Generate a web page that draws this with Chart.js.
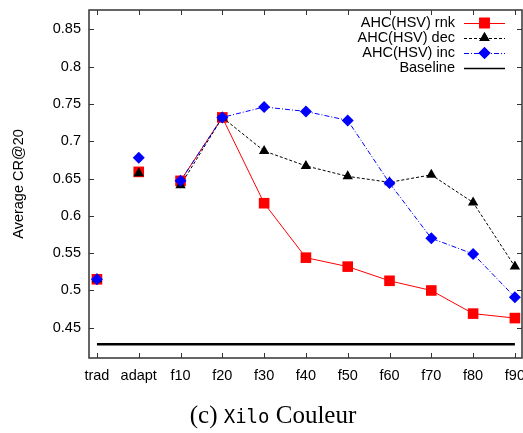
<!DOCTYPE html>
<html>
<head>
<meta charset="utf-8">
<script src="https://cdn.jsdelivr.net/npm/chart.js@4/dist/chart.umd.min.js"></script>
<style>
  body { margin: 0; background: #fff; }
  #wrap { width: 523px; height: 433px; }
</style>
</head>
<body>
<div id="wrap"><canvas id="myChart" width="523" height="433"></canvas></div>
<script>
// Categories along the x axis
const categories = ['trad', 'adapt', 'f10', 'f20', 'f30', 'f40', 'f50', 'f60', 'f70', 'f80', 'f90'];

// Average CR@20 per configuration
const rnkValues = [0.515, 0.659, 0.647, 0.732, 0.617, 0.544, 0.532, 0.513, 0.500, 0.469, 0.463];
const decValues = [0.515, 0.657, 0.641, 0.732, 0.687, 0.667, 0.653, 0.645, 0.655, 0.618, 0.532];
const incValues = [0.515, 0.678, 0.647, 0.732, 0.746, 0.740, 0.728, 0.644, 0.570, 0.549, 0.491];
const baselineValues = [0.428, 0.428, 0.428, 0.428, 0.428, 0.428, 0.428, 0.428, 0.428, 0.428, 0.428];

const yTicks = [0.45, 0.5, 0.55, 0.6, 0.65, 0.7, 0.75, 0.8, 0.85];

const FONT = "'Liberation Sans', Arial, sans-serif";
const AXIS_COLOR = '#333';

const toPoints = values => values.map((v, i) => ({ x: i, y: v }));

// trad and adapt are plotted as lone points, the curve starts at f10
const hideFirst = color => ({
    borderColor: ctx => ctx.p0DataIndex < 2 ? 'rgba(0,0,0,0)' : color
});

const series = [
    { label: 'AHC(HSV) rnk', data: toPoints(rnkValues), color: '#ff0000', dash: [], style: 'rect', radius: 7.5, order: 3 },
    { label: 'AHC(HSV) dec', data: toPoints(decValues), color: '#000000', dash: [3, 2], style: 'triangle', radius: 6, order: 2 },
    { label: 'AHC(HSV) inc', data: toPoints(incValues), color: '#0000ff', dash: [5, 2, 1, 2], style: 'rectRot', radius: 6, order: 1 }
];

const datasets = series.map(s => ({
    label: s.label,
    data: s.data,
    borderColor: s.color,
    backgroundColor: s.color,
    borderWidth: 1,
    borderDash: s.dash,
    pointStyle: s.style,
    pointRadius: s.radius,
    pointBorderWidth: 0,
    pointBackgroundColor: s.color,
    fill: false,
    tension: 0,
    order: s.order,
    segment: hideFirst(s.color)
}));

datasets.push({
    label: 'Baseline',
    data: toPoints(baselineValues),
    borderColor: '#000',
    borderWidth: 2.5,
    pointRadius: 0,
    fill: false,
    order: 4
});

// Frame, inward ticks on all four sides, legend and caption
const decorations = {
    id: 'decorations',
    afterDraw(chart) {
        const { ctx, chartArea: a, scales } = chart;
        const x = scales.x, y = scales.y;
        ctx.save();
        ctx.strokeStyle = AXIS_COLOR;
        ctx.lineWidth = 1.5;
        ctx.strokeRect(a.left, a.top, a.right - a.left, a.bottom - a.top);

        ctx.lineWidth = 1;
        ctx.beginPath();
        categories.forEach((c, i) => {
            const px = Math.round(x.getPixelForValue(i)) + 0.5;
            ctx.moveTo(px, a.bottom); ctx.lineTo(px, a.bottom - 5);
            ctx.moveTo(px, a.top); ctx.lineTo(px, a.top + 5);
        });
        yTicks.forEach(v => {
            const py = Math.round(y.getPixelForValue(v)) + 0.5;
            ctx.moveTo(a.left, py); ctx.lineTo(a.left + 5, py);
            ctx.moveTo(a.right, py); ctx.lineTo(a.right - 5, py);
        });
        ctx.stroke();

        // legend
        const textRight = 455, lineL = 464, lineR = 505;
        const rows = series.map(s => s).concat([{ label: 'Baseline', color: '#000', dash: [], style: null }]);
        ctx.font = '14.5px ' + FONT;
        ctx.textAlign = 'right';
        ctx.textBaseline = 'middle';
        rows.forEach((r, i) => {
            const ry = 23 + i * 15;
            ctx.fillStyle = '#000';
            ctx.fillText(r.label, textRight, ry);
            ctx.strokeStyle = r.color;
            ctx.lineWidth = r.style ? 1 : 1.5;
            ctx.setLineDash(r.dash);
            ctx.beginPath();
            ctx.moveTo(lineL, ry + 0.5);
            ctx.lineTo(lineR, ry + 0.5);
            ctx.stroke();
            ctx.setLineDash([]);
            if (r.style) {
                ctx.fillStyle = r.color;
                Chart.helpers.drawPoint(ctx, { pointStyle: r.style, radius: r.radius, borderWidth: 0 }, (lineL + lineR) / 2, ry);
                ctx.fill();
            }
        });

        // caption
        const serif = "25px 'Liberation Serif', 'Times New Roman', serif";
        const mono = "19px 'DejaVu Sans Mono', 'Liberation Mono', monospace";
        const parts = [['(c) ', serif], ['Xilo', mono], [' Couleur', serif]];
        let total = 0;
        parts.forEach(p => { ctx.font = p[1]; total += ctx.measureText(p[0]).width; });
        let cx = 273 - total / 2;
        ctx.fillStyle = '#000';
        ctx.textAlign = 'left';
        ctx.textBaseline = 'alphabetic';
        parts.forEach(p => {
            ctx.font = p[1];
            ctx.fillText(p[0], cx, 423);
            cx += ctx.measureText(p[0]).width;
        });
        ctx.restore();
    }
};

const ctx = document.getElementById('myChart').getContext('2d');
let myChart = new Chart(ctx, {
    type: 'line',
    data: { datasets: datasets },
    options: {
        responsive: false,
        animation: false,
        events: [],
        layout: { autoPadding: false, padding: { top: 10, right: 1, left: 0, bottom: 0 } },
        plugins: {
            legend: { display: false },
            tooltip: { enabled: false }
        },
        scales: {
            x: {
                type: 'linear',
                min: -0.19,
                max: 10.17,
                grid: { display: false, drawTicks: false },
                border: { display: false },
                afterBuildTicks: scale => { scale.ticks = categories.map((c, i) => ({ value: i })); },
                afterFit: scale => {
                    scale.height = 75;
                    scale.paddingLeft = 0;
                    scale.paddingRight = 0;
                },
                ticks: {
                    autoSkip: false,
                    maxRotation: 0,
                    padding: 9,
                    color: '#000',
                    font: { family: FONT, size: 14.5 },
                    callback: value => categories[value]
                }
            },
            y: {
                min: 0.4095,
                max: 0.876,
                grid: { display: false, drawTicks: false },
                border: { display: false },
                afterBuildTicks: scale => { scale.ticks = yTicks.map(v => ({ value: v })); },
                afterFit: scale => {
                    scale.width = 89;
                    scale.paddingTop = 0;
                    scale.paddingBottom = 0;
                },
                ticks: {
                    padding: 8,
                    color: '#000',
                    font: { family: FONT, size: 14.5 },
                    callback: value => String(value)
                },
                title: {
                    display: true,
                    text: 'Average CR@20',
                    color: '#000',
                    font: { family: FONT, size: 14.5 },
                    padding: { top: 10 }
                }
            }
        }
    },
    plugins: [decorations]
});
</script>
</body>
</html>
